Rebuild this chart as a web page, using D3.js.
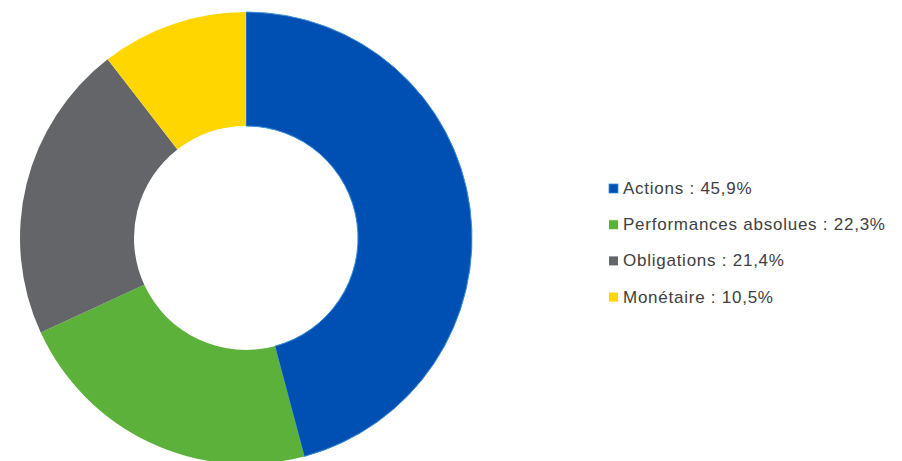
<!DOCTYPE html>
<html>
<head>
<meta charset="utf-8">
<script src="https://cdn.jsdelivr.net/npm/d3@7"></script>
<style>
  html, body { margin: 0; padding: 0; background: #ffffff; }
  svg { display: block; }
</style>
</head>
<body>
<svg id="chart" width="902" height="461"></svg>
<script>
// Répartition de l'actif par classe
const categories = ["Actions", "Performances absolues", "Obligations", "Monétaire"];
const values = [45.9, 22.3, 21.4, 10.5];
const valueLabels = ["45,9%", "22,3%", "21,4%", "10,5%"];
const colors = ["#0050b4", "#5bb13a", "#636569", "#ffd600"];
const strokes = ["#3a8ed6", "none", "none", "none"];

const svg = d3.select("#chart");
const cx = 246, cy = 238;
const outerR = 226, innerR = 112;

const data = categories.map((c, i) => ({ name: c, value: values[i], label: valueLabels[i], i }));

const pie = d3.pie().value(d => d.value).sort(null).startAngle(0).endAngle(2 * Math.PI);
const arc = d3.arc().innerRadius(innerR).outerRadius(outerR);

const g = svg.append("g").attr("transform", `translate(${cx},${cy})`);
g.selectAll("path")
  .data(pie(data))
  .join("path")
  .attr("d", arc)
  .attr("fill", d => colors[d.data.i])
  .attr("stroke", d => strokes[d.data.i])
  .attr("stroke-width", 1);

// Légende
const legendX = 609, legendY0 = 194, legendStep = 36.2;
const legend = svg.append("g");
const items = legend.selectAll("g")
  .data(data)
  .join("g")
  .attr("transform", (d, i) => `translate(${legendX},${legendY0 + i * legendStep})`);

items.append("rect")
  .attr("x", 0).attr("y", -10)
  .attr("width", 9).attr("height", 9)
  .attr("fill", d => colors[d.i])
  .attr("stroke", d => strokes[d.i])
  .attr("stroke-width", 0.8);

items.append("text")
  .attr("x", 14).attr("y", 0)
  .attr("font-family", "Liberation Sans, Arial, sans-serif")
  .attr("font-size", 17)
  .attr("letter-spacing", 0.75)
  .attr("fill", "#404040")
  .text(d => `${d.name} : ${d.label}`);
</script>
</body>
</html>
